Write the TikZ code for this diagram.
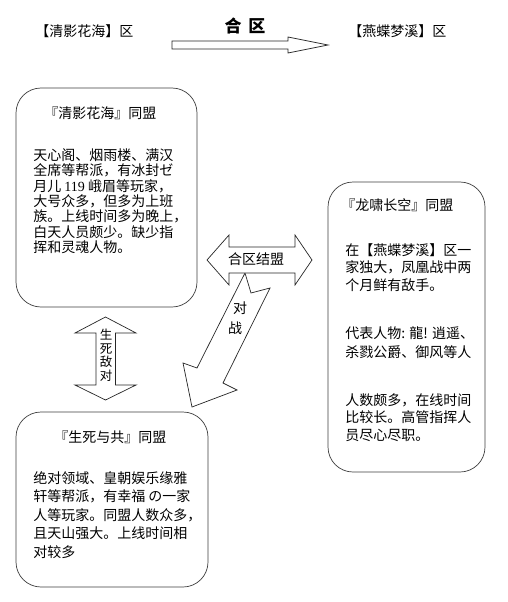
\documentclass[tikz,border=0pt]{standalone}
\usepackage{fontspec}
\setmainfont{Noto Sans CJK SC}
\newfontfamily\latinserif{Liberation Serif}
\begin{document}
\begin{tikzpicture}[x=1pt,y=-1pt,line width=0.7pt,
  box/.style={draw=black!75,rounded corners=25pt,inner sep=0pt},
  body/.style={font=\fontsize{14}{#1}\selectfont,align=left,inner sep=0pt,anchor=north west},
  ttl/.style={font=\fontsize{14}{16}\selectfont,inner sep=0pt,anchor=west},
  blockarrow/.style={draw=black!85,fill=white,line join=miter}]
\useasboundingbox[fill=white] (0,0) rectangle (508,602);
% top labels and merge arrow
\node[ttl] (zl) at (35,31) {【清影花海】区};
\node[ttl] (zr) at (348,31) {【燕蝶梦溪】区};
\node[font=\fontsize{17}{18}\selectfont\bfseries,inner sep=0pt] (hq) at (245,26) {合\hspace{7pt}区};
\draw[blockarrow] (172,41) -- (288,41) -- (288,37) -- (328,45) -- (288,53) -- (288,49) -- (172,49) -- cycle;
% boxes
\node[box,minimum width=181pt,minimum height=219pt] (b1) at (106.5,197.5) {};
\node[box,minimum width=157pt,minimum height=290pt] (b2) at (406.5,327) {};
\node[box,minimum width=192pt,minimum height=175pt] (b3) at (112,499.5) {};
% box 1 text
\node[ttl] (t1) at (44,113) {『清影花海』同盟};
\node[body=15.4] (x1) at (33,148) {天心阁、烟雨楼、满汉\\全席等帮派，有冰封ゼ\\月儿 {\latinserif 119} 峨眉等玩家，\\大号众多，但多为上班\\族。上线时间多为晚上，\\白天人员颇少。缺少指\\挥和灵魂人物。};
% box 2 text
\node[ttl] (t2) at (341,205) {『龙啸长空』同盟};
\node[body=17.5] (x2a) at (345,243) {在【燕蝶梦溪】区一\\家独大，凤凰战中两\\个月鲜有敌手。};
\node[body=19] (x2b) at (345,326) {代表人物: 龍! 逍遥、\\杀戮公爵、御风等人};
\node[body=17.5] (x2c) at (345,393) {人数颇多，在线时间\\比较长。高管指挥人\\员尽心尽职。};
% box 3 text
\node[ttl] (t3) at (54,437) {『生死与共』同盟};
\node[body=18.5] (x3) at (33,471) {绝对领域、皇朝娱乐缘雅\\轩等帮派，有幸福 の一家\\人等玩家。同盟人数众多，\\且天山强大。上线时间相\\对较多};
% vertical double arrow
\draw[blockarrow] (105.5,317) -- (136,333) -- (115.5,333) -- (115.5,385) -- (136,385) -- (105.5,400) -- (75,385) -- (96,385) -- (96,333) -- (75,333) -- cycle;
\node[font=\fontsize{12.5}{13.5}\selectfont,align=center,inner sep=0pt] (sd) at (106,355) {生\\死\\敌\\对};
% diagonal notched arrow
\draw[blockarrow] (245,273) -- (251,293) -- (270,288) -- (223,383) -- (237,390) -- (192,407) -- (183,363) -- (197,368) -- cycle;
\node[font=\fontsize{14}{15}\selectfont,inner sep=0pt] (dz1) at (240,308) {对};
\node[font=\fontsize{14}{15}\selectfont,inner sep=0pt] (dz2) at (235,328) {战};
% horizontal double arrow
\draw[blockarrow] (207,260) -- (229,235) -- (229,247) -- (295,247) -- (295,235) -- (312,260) -- (295,285) -- (295,273) -- (229,273) -- (229,285) -- cycle;
\node[font=\fontsize{14}{15}\selectfont,inner sep=0pt] (hm) at (256,259) {合区结盟};
\end{tikzpicture}
\end{document}
